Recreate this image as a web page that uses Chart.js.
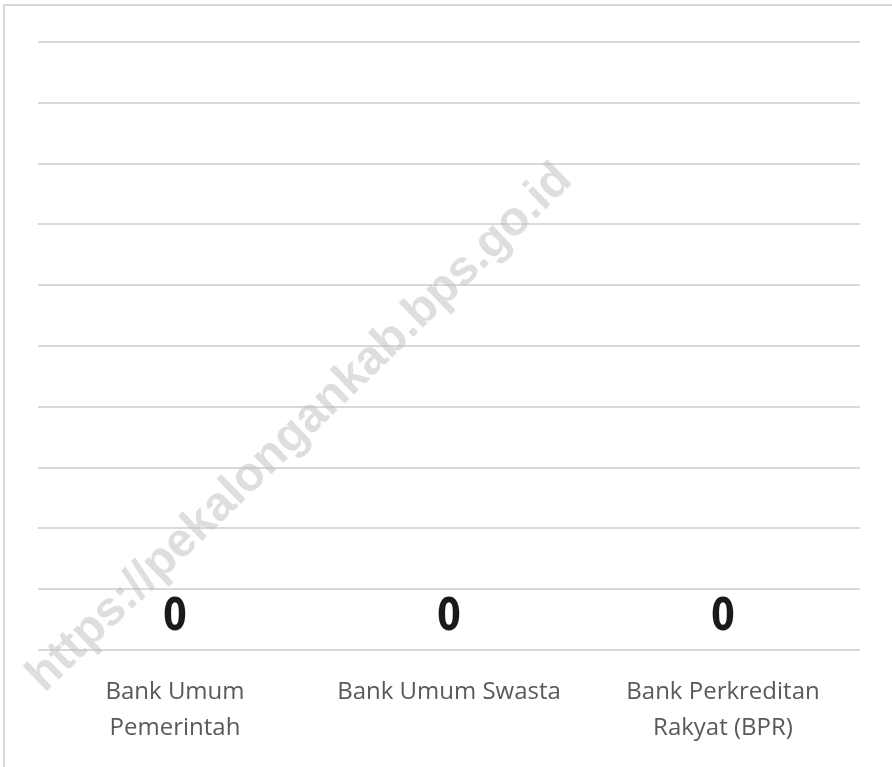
<!DOCTYPE html>
<html>
<head>
<meta charset="utf-8">
<script src="https://cdn.jsdelivr.net/npm/chart.js@4/dist/chart.umd.min.js"></script>
<style>
  body { margin: 0; background: #fff; }
  #frame { position: absolute; left: 3px; top: 4px; width: 900px; height: 800px;
           border-left: 2px solid #d9d9d9; border-top: 2px solid #d9d9d9; }
  #chart { position: absolute; left: 0; top: 0; }
</style>
</head>
<body>
<div id="frame"></div>
<canvas id="chart" width="892" height="767"></canvas>
<script>
var categories = [["Bank Umum", "Pemerintah"], "Bank Umum Swasta", ["Bank Perkreditan", "Rakyat (BPR)"]];
var values = [0, 0, 0];
var yMax = 10;
var watermark = "https://pekalongankab.bps.go.id";

// draws the value above each bar (squeezed a bit, the original uses a narrow font)
var valueLabels = {
  id: "valueLabels",
  afterDatasetsDraw: function(chart) {
    var ctx = chart.ctx;
    var meta = chart.getDatasetMeta(0);
    ctx.font = "bold 44px 'DejaVu Sans', sans-serif";
    ctx.fillStyle = "#1a1a1a";
    ctx.textAlign = "center";
    ctx.textBaseline = "middle";
    meta.data.forEach(function(bar, i) {
      ctx.save();
      ctx.translate(bar.x, bar.y - 31);
      ctx.scale(0.78, 1);
      ctx.fillText(String(values[i]), 0, 0);
      ctx.restore();
    });
  }
};

var watermarkText = {
  id: "watermarkText",
  afterDraw: function(chart) {
    var ctx = chart.ctx;
    ctx.save();
    ctx.translate(300, 428);
    ctx.rotate(-44 * Math.PI / 180);
    ctx.font = "bold 48px 'Liberation Sans', Arial, sans-serif";
    ctx.fillStyle = "rgba(190,190,190,0.5)";
    ctx.textAlign = "center";
    ctx.textBaseline = "middle";
    ctx.fillText(watermark, 0, 0);
    ctx.restore();
  }
};

new Chart(document.getElementById("chart"), {
  type: "bar",
  data: {
    labels: categories,
    datasets: [{
      data: values,
      backgroundColor: "#4472c4"
    }]
  },
  options: {
    responsive: false,
    animation: false,
    layout: { padding: { left: 38, right: 32, top: 42, bottom: 5 } },
    plugins: {
      legend: { display: false },
      tooltip: { enabled: false }
    },
    scales: {
      x: {
        grid: { display: false },
        border: { display: false },
        ticks: {
          color: "#595959",
          padding: 16,
          font: { family: "'Open Sans', sans-serif", size: 24, lineHeight: 1.5 }
        }
      },
      y: {
        min: 0,
        max: yMax,
        ticks: { display: false, stepSize: 1 },
        border: { display: false },
        grid: { color: "#d9d9d9", lineWidth: 2, drawTicks: false }
      }
    }
  },
  plugins: [valueLabels, watermarkText]
});
</script>
</body>
</html>
